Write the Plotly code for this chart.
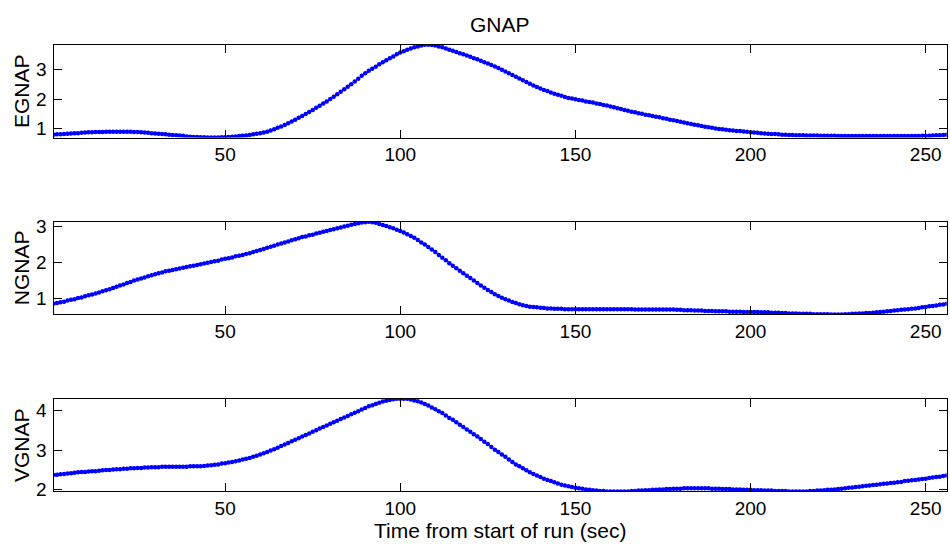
import plotly.graph_objects as go

# ---------------- data ----------------
time_sec = list(range(1, 257))

egnap = [
    0.79,0.80,0.80,0.81,0.82,0.83,0.84,0.84,0.85,0.86,
    0.87,0.87,0.88,0.88,0.88,0.89,0.89,0.89,0.89,0.89,
    0.89,0.89,0.89,0.88,0.88,0.87,0.86,0.85,0.84,0.83,
    0.82,0.81,0.80,0.79,0.78,0.77,0.76,0.75,0.73,0.72,
    0.71,0.71,0.70,0.70,0.69,0.69,0.69,0.69,0.70,0.70,
    0.71,0.72,0.73,0.74,0.75,0.76,0.78,0.80,0.82,0.84,
    0.86,0.89,0.93,0.97,1.02,1.07,1.12,1.18,1.24,1.30,
    1.36,1.42,1.49,1.56,1.63,1.70,1.77,1.85,1.92,2.00,
    2.08,2.16,2.25,2.33,2.42,2.50,2.60,2.69,2.79,2.88,
    2.96,3.03,3.10,3.18,3.25,3.32,3.39,3.45,3.52,3.58,
    3.63,3.68,3.72,3.76,3.79,3.82,3.85,3.85,3.84,3.82,
    3.79,3.76,3.72,3.68,3.64,3.60,3.56,3.52,3.48,3.44,
    3.39,3.35,3.30,3.25,3.21,3.16,3.11,3.06,3.00,2.94,
    2.88,2.82,2.76,2.70,2.64,2.58,2.52,2.46,2.41,2.36,
    2.31,2.27,2.22,2.18,2.15,2.11,2.07,2.04,2.02,1.99,
    1.97,1.95,1.92,1.90,1.88,1.85,1.83,1.80,1.78,1.75,
    1.72,1.69,1.66,1.63,1.60,1.57,1.55,1.52,1.50,1.47,
    1.45,1.42,1.40,1.38,1.35,1.33,1.30,1.28,1.25,1.23,
    1.20,1.18,1.15,1.13,1.11,1.08,1.06,1.04,1.02,1.00,
    0.98,0.97,0.96,0.94,0.93,0.91,0.91,0.90,0.89,0.87,
    0.86,0.85,0.84,0.83,0.82,0.81,0.81,0.80,0.79,0.79,
    0.78,0.78,0.77,0.77,0.77,0.76,0.76,0.76,0.76,0.75,
    0.75,0.75,0.75,0.75,0.74,0.74,0.74,0.74,0.74,0.74,
    0.74,0.74,0.74,0.74,0.74,0.74,0.74,0.74,0.74,0.74,
    0.74,0.74,0.74,0.74,0.74,0.74,0.74,0.74,0.75,0.75,
    0.75,0.76,0.77,0.77,0.78,0.79,
]

ngnap = [
    0.84,0.86,0.88,0.90,0.93,0.95,0.97,1.00,1.02,1.05,
    1.08,1.10,1.13,1.16,1.19,1.22,1.25,1.28,1.32,1.35,
    1.38,1.42,1.45,1.49,1.52,1.55,1.58,1.61,1.64,1.67,
    1.70,1.72,1.75,1.77,1.79,1.81,1.83,1.85,1.87,1.89,
    1.91,1.93,1.95,1.97,1.99,2.01,2.03,2.05,2.08,2.10,
    2.12,2.14,2.17,2.19,2.21,2.24,2.26,2.29,2.32,2.35,
    2.38,2.41,2.44,2.47,2.50,2.53,2.56,2.59,2.62,2.65,
    2.68,2.71,2.73,2.76,2.78,2.81,2.83,2.86,2.88,2.91,
    2.93,2.96,2.98,3.01,3.03,3.06,3.08,3.10,3.12,3.13,
    3.14,3.13,3.11,3.08,3.05,3.02,2.99,2.96,2.92,2.88,
    2.84,2.79,2.74,2.69,2.63,2.56,2.50,2.43,2.36,2.29,
    2.21,2.13,2.06,1.98,1.91,1.84,1.77,1.70,1.63,1.56,
    1.49,1.42,1.35,1.29,1.23,1.17,1.11,1.06,1.01,0.97,
    0.93,0.89,0.86,0.83,0.80,0.78,0.76,0.75,0.74,0.73,
    0.72,0.71,0.71,0.70,0.70,0.70,0.69,0.69,0.69,0.69,
    0.69,0.69,0.69,0.69,0.69,0.69,0.69,0.69,0.69,0.69,
    0.69,0.69,0.69,0.69,0.69,0.69,0.68,0.68,0.68,0.68,
    0.68,0.68,0.68,0.68,0.68,0.68,0.68,0.68,0.67,0.67,
    0.66,0.66,0.66,0.65,0.65,0.65,0.64,0.64,0.64,0.63,
    0.63,0.63,0.63,0.62,0.62,0.62,0.62,0.61,0.61,0.61,
    0.61,0.61,0.60,0.60,0.60,0.59,0.59,0.59,0.58,0.58,
    0.57,0.57,0.57,0.56,0.56,0.56,0.56,0.55,0.55,0.55,
    0.55,0.55,0.54,0.54,0.54,0.54,0.55,0.55,0.56,0.56,
    0.57,0.57,0.58,0.58,0.59,0.60,0.61,0.62,0.63,0.64,
    0.65,0.66,0.67,0.68,0.69,0.70,0.71,0.72,0.74,0.75,
    0.77,0.78,0.79,0.81,0.82,0.84,
]

vgnap = [
    2.37,2.38,2.39,2.40,2.41,2.42,2.43,2.44,2.45,2.45,
    2.46,2.47,2.47,2.48,2.49,2.50,2.50,2.51,2.52,2.52,
    2.53,2.53,2.54,2.54,2.55,2.55,2.56,2.56,2.57,2.57,
    2.57,2.58,2.58,2.58,2.58,2.58,2.58,2.58,2.58,2.59,
    2.59,2.59,2.59,2.60,2.61,2.62,2.63,2.64,2.66,2.67,
    2.69,2.70,2.72,2.74,2.76,2.78,2.80,2.83,2.86,2.89,
    2.92,2.95,2.99,3.02,3.06,3.10,3.14,3.18,3.22,3.26,
    3.30,3.34,3.38,3.42,3.46,3.50,3.54,3.58,3.62,3.66,
    3.70,3.74,3.78,3.82,3.86,3.90,3.94,3.98,4.02,4.06,
    4.10,4.13,4.16,4.19,4.22,4.24,4.26,4.28,4.29,4.29,
    4.29,4.29,4.27,4.25,4.23,4.20,4.16,4.12,4.07,4.03,
    3.98,3.93,3.87,3.81,3.76,3.70,3.64,3.58,3.52,3.46,
    3.40,3.34,3.28,3.21,3.15,3.08,3.01,2.95,2.89,2.83,
    2.76,2.70,2.64,2.59,2.54,2.49,2.44,2.40,2.36,2.32,
    2.28,2.25,2.22,2.19,2.16,2.13,2.11,2.09,2.07,2.05,
    2.04,2.03,2.01,2.00,1.99,1.98,1.97,1.97,1.96,1.96,
    1.96,1.96,1.96,1.96,1.96,1.97,1.97,1.98,1.98,1.99,
    1.99,2.00,2.00,2.01,2.01,2.02,2.02,2.03,2.03,2.03,
    2.04,2.04,2.04,2.04,2.04,2.04,2.04,2.04,2.03,2.03,
    2.03,2.02,2.02,2.02,2.01,2.01,2.01,2.00,2.00,2.00,
    1.99,1.99,1.99,1.98,1.98,1.98,1.97,1.97,1.97,1.97,
    1.96,1.96,1.96,1.96,1.96,1.96,1.97,1.97,1.98,1.98,
    1.99,2.00,2.00,2.01,2.02,2.03,2.04,2.05,2.06,2.07,
    2.08,2.09,2.10,2.11,2.12,2.13,2.14,2.15,2.16,2.17,
    2.18,2.19,2.20,2.22,2.23,2.24,2.25,2.26,2.27,2.28,
    2.30,2.31,2.32,2.33,2.35,2.36,
]

series_names = ["EGNAP", "NGNAP", "VGNAP"]
x_ticks = [50, 100, 150, 200, 250]
y_ticks = [[1, 2, 3], [1, 2, 3], [2, 3, 4]]
title_text = "GNAP"
xlabel_text = "Time from start of run (sec)"

# ---------------- layout ----------------
W, H = 950, 555
FONT = "Liberation Sans, Arial, Helvetica, sans-serif"
BLUE = "rgb(0,0,255)"

x_left, x_right = 53.5, 946.7
panels_px = [(40.7, 136.0), (222.4, 317.5), (404.0, 499.0)]  # (top, bottom) pixel

def py(p):
    return 1 - p / H

fig = go.Figure()
all_series = [egnap, ngnap, vgnap]

layout = dict(
    width=W, height=H,
    margin=dict(l=0, r=0, t=0, b=0),
    paper_bgcolor="white", plot_bgcolor="white",
    showlegend=False,
    font=dict(family=FONT, color="black", size=19),
    annotations=[],
)

for i, (vals, name) in enumerate(zip(all_series, series_names)):
    k = "" if i == 0 else str(i + 1)
    fig.add_trace(go.Scatter(
        x=time_sec, y=vals, mode="lines+markers",
        line=dict(color=BLUE, width=1),
        marker=dict(color=BLUE, size=4.5, symbol="circle", line=dict(width=0)),
        xaxis="x" + k, yaxis="y" + k, name=name,
        hoverinfo="x+y",
    ))
    top, bot = panels_px[i]
    layout["xaxis" + k] = dict(
        domain=[x_left / W, x_right / W], anchor="y" + k,
        range=[time_sec[0], time_sec[-1]],
        tickvals=x_ticks, ticks="inside", ticklen=8, tickcolor="black",
        showline=True, linecolor="black", linewidth=1, mirror="ticks",
        showgrid=False, zeroline=False,
        tickfont=dict(family=FONT, size=19, color="black"),
    )
    layout["yaxis" + k] = dict(
        domain=[py(bot), py(top)], anchor="x" + k,
        range=[min(vals), max(vals)],
        tickvals=y_ticks[i], ticks="inside", ticklen=8, tickcolor="black",
        showline=True, linecolor="black", linewidth=1, mirror="ticks",
        showgrid=False, zeroline=False,
        tickfont=dict(family=FONT, size=19, color="black"),
        ticklabelstandoff=2,
    )
    layout["annotations"].append(dict(
        text=name, textangle=-90, xref="paper", yref="paper",
        x=21 / W, y=py((top + bot) / 2), xanchor="center", yanchor="middle",
        showarrow=False, font=dict(family=FONT, size=21, color="black"),
    ))

layout["annotations"].append(dict(
    text=title_text, xref="paper", yref="paper",
    x=(x_left + x_right) / 2 / W, y=py(20), xanchor="center", yanchor="middle",
    showarrow=False, font=dict(family=FONT, size=21, color="black"),
))
layout["annotations"].append(dict(
    text=xlabel_text, xref="paper", yref="paper",
    x=(x_left + x_right) / 2 / W, y=py(539), xanchor="center", yanchor="middle",
    showarrow=False, font=dict(family=FONT, size=21, color="black"),
))

fig.update_layout(**layout)
fig.write_html(
    "out.html",
    config={"displayModeBar": False},
    post_script="document.body.style.margin='0';document.body.style.overflow='hidden';",
)
